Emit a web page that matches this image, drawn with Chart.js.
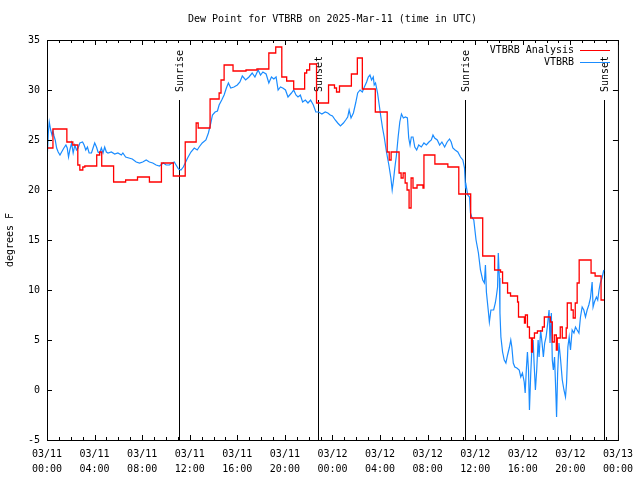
<!DOCTYPE html>
<html>
<head>
<meta charset="utf-8">
<script src="https://cdn.jsdelivr.net/npm/chart.js@4.4.1/dist/chart.umd.min.js"></script>
<style>
  html, body { margin: 0; padding: 0; background: #fff; }
  #chart { display: block; }
</style>
</head>
<body>
<canvas id="chart" width="640" height="480"></canvas>
<script>
// hours since 03/11 00:00 UTC, dew point in degrees F
const analysisPoints = [
    [0.00, 24.2], [0.50, 26.1], [1.67, 24.8], [2.17, 24.5], [2.59, 22.5], [2.76, 22.0],
    [3.01, 22.3], [3.18, 22.4], [4.18, 23.5], [4.43, 23.8], [4.60, 22.4], [5.60, 20.8],
    [6.61, 21.0], [7.61, 21.3], [8.61, 20.8], [9.62, 22.7], [10.62, 21.4], [11.62, 24.8],
    [12.54, 26.7], [12.71, 26.2], [13.71, 29.1], [14.47, 29.7], [14.63, 31.0], [14.89, 32.5],
    [15.64, 31.9], [16.73, 32.0], [17.65, 32.1], [18.65, 33.7], [19.23, 34.3], [19.74, 31.3],
    [20.15, 30.9], [20.74, 30.1], [21.66, 31.7], [21.83, 32.0], [22.08, 32.6], [22.66, 28.7],
    [23.67, 30.5], [24.17, 30.2], [24.34, 29.8], [24.59, 30.4], [25.59, 31.6], [26.09, 33.2],
    [26.51, 30.1], [27.60, 27.8], [28.60, 23.8], [28.77, 23.0], [28.93, 23.8], [29.60, 21.7],
    [29.77, 21.2], [29.94, 21.7], [30.11, 20.7], [30.27, 20.0], [30.44, 18.2], [30.61, 21.2],
    [30.77, 20.2], [31.11, 20.5], [31.61, 20.2], [31.69, 23.5], [32.61, 22.6], [33.70, 22.3],
    [34.62, 19.6], [35.62, 17.2], [36.63, 13.4], [37.63, 12.0], [38.13, 11.8], [38.30, 10.7],
    [38.72, 9.7], [38.97, 9.4], [39.56, 8.8], [39.64, 7.3], [40.14, 6.7], [40.22, 7.5],
    [40.39, 6.3], [40.56, 5.2], [40.73, 3.8], [40.81, 5.2], [40.98, 5.7], [41.23, 5.9],
    [41.65, 6.3], [41.81, 7.3], [42.32, 6.8], [42.48, 4.8], [42.65, 5.5], [42.82, 4.0],
    [42.90, 5.2], [43.15, 6.3], [43.32, 5.2], [43.65, 6.2], [43.74, 8.7], [44.07, 8.0],
    [44.24, 7.2], [44.41, 8.7], [44.57, 10.7], [44.74, 13.0], [45.74, 11.7], [46.08, 11.4],
    [46.58, 9.0], [46.83, 9.0]
];

const obsPoints = [
    [0.00, 22.8], [0.11, 25.7], [0.19, 26.8], [0.31, 26.0], [0.42, 25.5], [0.50, 25.9],
    [0.59, 25.4], [0.69, 25.0], [0.81, 24.2], [0.94, 23.8], [1.09, 23.5], [1.23, 23.8],
    [1.42, 24.2], [1.59, 24.5], [1.70, 24.2], [1.81, 23.3], [1.92, 24.0], [2.07, 24.7],
    [2.20, 23.7], [2.34, 24.5], [2.48, 24.0], [2.62, 24.2], [2.76, 24.7], [2.99, 24.8],
    [3.12, 24.5], [3.26, 24.0], [3.40, 24.3], [3.54, 23.7], [3.74, 23.7], [3.87, 24.2],
    [4.01, 24.7], [4.16, 24.3], [4.29, 23.8], [4.43, 23.7], [4.57, 24.2], [4.71, 23.7],
    [4.85, 24.3], [4.99, 23.8], [5.13, 23.7], [5.41, 23.8], [5.69, 23.6], [5.96, 23.7],
    [6.25, 23.5], [6.38, 23.7], [6.61, 23.3], [6.88, 23.2], [7.17, 23.1], [7.50, 22.8],
    [7.78, 22.7], [8.05, 22.8], [8.34, 23.0], [8.61, 22.8], [8.89, 22.7], [9.17, 22.5],
    [9.45, 22.4], [9.78, 22.7], [10.01, 22.5], [10.29, 22.5], [10.51, 22.7], [10.70, 22.8],
    [10.85, 22.5], [11.06, 22.1], [11.26, 22.0], [11.46, 22.3], [11.82, 23.2], [12.10, 23.8],
    [12.38, 24.2], [12.63, 24.0], [12.79, 24.3], [13.05, 24.7], [13.36, 25.0], [13.57, 25.7],
    [13.77, 26.7], [13.91, 27.5], [14.13, 27.8], [14.33, 27.9], [14.47, 28.5], [14.69, 29.0],
    [14.89, 29.5], [15.08, 30.2], [15.25, 30.7], [15.45, 30.2], [15.72, 30.3], [16.00, 30.5],
    [16.22, 30.8], [16.42, 31.4], [16.70, 31.0], [16.98, 31.3], [17.25, 31.7], [17.48, 31.3],
    [17.75, 32.0], [17.95, 31.5], [18.15, 31.8], [18.42, 31.6], [18.65, 30.7], [18.87, 31.3],
    [19.07, 31.1], [19.26, 31.3], [19.43, 30.0], [19.63, 30.3], [19.82, 30.2], [20.05, 30.0],
    [20.26, 29.3], [20.55, 29.7], [20.74, 30.0], [20.93, 29.5], [21.10, 29.3], [21.30, 29.5],
    [21.49, 28.8], [21.72, 29.0], [21.94, 28.7], [22.16, 29.0], [22.39, 28.5], [22.60, 27.8],
    [22.83, 27.8], [23.11, 27.6], [23.39, 27.8], [23.61, 27.7], [23.81, 27.5], [24.00, 27.4],
    [24.23, 27.0], [24.44, 26.7], [24.67, 26.4], [24.92, 26.7], [25.11, 27.0], [25.28, 27.3],
    [25.40, 28.0], [25.56, 27.2], [25.76, 27.7], [25.95, 28.7], [26.12, 29.7], [26.32, 30.0],
    [26.51, 29.8], [26.68, 30.3], [26.87, 30.8], [27.01, 31.3], [27.15, 31.5], [27.29, 31.0],
    [27.43, 31.3], [27.51, 30.5], [27.62, 30.7], [27.79, 29.7], [27.93, 28.5], [28.07, 27.3],
    [28.21, 26.2], [28.35, 25.3], [28.54, 23.8], [28.74, 22.5], [28.91, 21.2], [29.02, 20.0],
    [29.13, 21.0], [29.24, 22.2], [29.38, 23.5], [29.52, 25.3], [29.66, 26.8], [29.80, 27.6],
    [29.96, 27.2], [30.13, 27.3], [30.30, 27.2], [30.41, 25.2], [30.52, 24.5], [30.63, 25.3],
    [30.77, 25.3], [30.92, 24.3], [31.08, 24.0], [31.25, 24.5], [31.47, 24.3], [31.69, 24.7],
    [31.89, 24.5], [32.11, 24.8], [32.31, 25.0], [32.45, 25.5], [32.59, 25.2], [32.81, 25.0],
    [33.01, 24.5], [33.20, 24.8], [33.43, 24.3], [33.64, 24.8], [33.84, 25.1], [33.98, 24.8],
    [34.12, 24.2], [34.31, 24.0], [34.54, 23.8], [34.76, 23.3], [34.96, 23.0], [35.10, 22.2],
    [35.18, 20.3], [35.23, 20.5], [35.37, 19.5], [35.52, 19.3], [35.60, 17.7], [35.71, 17.3],
    [35.88, 17.0], [36.07, 15.0], [36.27, 13.7], [36.44, 12.0], [36.63, 11.0], [36.77, 10.7],
    [36.86, 12.5], [36.94, 9.8], [37.11, 7.8], [37.19, 6.8], [37.32, 8.0], [37.55, 8.0],
    [37.69, 8.7], [37.77, 9.3], [37.88, 10.3], [37.94, 13.7], [38.03, 11.2], [38.08, 7.7],
    [38.16, 5.3], [38.30, 3.8], [38.44, 3.0], [38.58, 2.7], [38.72, 3.5], [38.86, 4.2],
    [38.99, 5.0], [39.08, 4.3], [39.20, 2.7], [39.33, 2.3], [39.50, 2.2], [39.70, 2.0],
    [39.83, 1.3], [39.97, 1.7], [40.12, 0.8], [40.20, -0.3], [40.31, 2.3], [40.39, 3.8],
    [40.48, 2.0], [40.56, -2.0], [40.67, 1.7], [40.75, 3.8], [40.87, 5.0], [40.95, 2.7],
    [41.06, 0.0], [41.17, 2.0], [41.29, 5.0], [41.37, 3.3], [41.50, 6.0], [41.62, 4.7],
    [41.73, 3.3], [41.84, 4.7], [41.96, 5.3], [42.06, 6.3], [42.21, 8.0], [42.29, 4.7],
    [42.40, 7.7], [42.48, 3.0], [42.57, 2.0], [42.67, 3.3], [42.79, -0.7], [42.84, -2.7],
    [42.93, 1.7], [43.04, 4.7], [43.18, 3.0], [43.32, 1.0], [43.46, 0.0], [43.59, -0.7],
    [43.68, 0.7], [43.79, 4.3], [43.90, 5.3], [44.01, 4.0], [44.15, 6.0], [44.30, 5.7],
    [44.43, 6.3], [44.57, 6.0], [44.72, 5.7], [44.85, 7.3], [44.99, 8.3], [45.13, 8.0],
    [45.27, 7.3], [45.41, 8.0], [45.55, 8.5], [45.69, 9.2], [45.83, 10.8], [45.91, 8.3],
    [46.02, 8.8], [46.19, 9.3], [46.30, 9.0], [46.41, 10.0], [46.52, 10.7], [46.66, 11.2],
    [46.81, 12.0]
];

const sunEvents = [[11.12, "Sunrise"], [22.77, "Sunset"], [35.15, "Sunrise"], [46.86, "Sunset"]];
const seriesNames = ["VTBRB Analysis", "VTBRB"];
const seriesColors = ["#ff0000", "#1a8cff"];
const dayLabels = ["03/11", "03/12", "03/13"];

const FONT = '10px "DejaVu Sans Mono"';

function toXY(points) {
    return points.map(p => ({x: p[0], y: p[1]}));
}

const decorations = {
    id: "decorations",
    beforeDatasetsDraw(chart) {
        const ctx = chart.ctx;
        const x = chart.scales.x;
        const y = chart.scales.y;
        ctx.save();
        ctx.strokeStyle = "#000";
        ctx.lineWidth = 1;
        ctx.fillStyle = "#000";
        ctx.font = FONT;
        sunEvents.forEach(([hour, name]) => {
            const px = Math.round(x.getPixelForValue(hour)) + 0.5;
            ctx.beginPath();
            ctx.moveTo(px, y.getPixelForValue(29));
            ctx.lineTo(px, y.getPixelForValue(-5));
            ctx.stroke();

            ctx.save();
            ctx.translate(px + 1, y.getPixelForValue(29.8));
            ctx.rotate(-Math.PI / 2);
            ctx.textAlign = "left";
            ctx.textBaseline = "middle";
            ctx.fillText(name, 0, 0);
            ctx.restore();
        });
        ctx.restore();
    },
    afterDraw(chart) {
        const ctx = chart.ctx;
        const area = chart.chartArea;
        const x = chart.scales.x;
        const y = chart.scales.y;
        ctx.save();
        ctx.strokeStyle = "#000";
        ctx.lineWidth = 1;
        ctx.strokeRect(area.left + 0.5, area.top + 0.5, area.right - area.left, area.bottom - area.top);

        ctx.beginPath();
        for (let h = 0; h <= 48; h++) {
            const len = h % 4 === 0 ? 5 : 3;
            const px = Math.round(x.getPixelForValue(h)) + 0.5;
            ctx.moveTo(px, area.bottom);
            ctx.lineTo(px, area.bottom - len);
            ctx.moveTo(px, area.top);
            ctx.lineTo(px, area.top + len);
        }
        for (let v = -5; v <= 35; v += 5) {
            const py = Math.round(y.getPixelForValue(v)) + 0.5;
            ctx.moveTo(area.left, py);
            ctx.lineTo(area.left + 5, py);
            ctx.moveTo(area.right, py);
            ctx.lineTo(area.right - 5, py);
        }
        ctx.stroke();

        ctx.fillStyle = "#000";
        ctx.font = FONT;
        ctx.textBaseline = "middle";
        ctx.textAlign = "center";
        ctx.fillText("Dew Point for VTBRB on 2025-Mar-11 (time in UTC)", (area.left + area.right) / 2, 19);

        ctx.save();
        ctx.translate(10, (area.top + area.bottom) / 2);
        ctx.rotate(-Math.PI / 2);
        ctx.fillText("degrees F", 0, 0);
        ctx.restore();

        ctx.textAlign = "right";
        seriesNames.forEach((name, i) => {
            const ly = 50 + i * 12;
            ctx.fillText(name, 574, ly);
            ctx.strokeStyle = seriesColors[i];
            ctx.beginPath();
            ctx.moveTo(580, ly + 0.5);
            ctx.lineTo(610, ly + 0.5);
            ctx.stroke();
        });
        ctx.restore();
    }
};

new Chart(document.getElementById("chart"), {
    type: "line",
    data: {
        datasets: [
            {
                label: seriesNames[0],
                data: toXY(analysisPoints),
                borderColor: seriesColors[0],
                borderWidth: 1.3,
                stepped: true,
                pointRadius: 0,
                fill: false
            },
            {
                label: seriesNames[1],
                data: toXY(obsPoints),
                borderColor: seriesColors[1],
                borderWidth: 1.2,
                pointRadius: 0,
                tension: 0,
                fill: false
            }
        ]
    },
    options: {
        responsive: false,
        animation: false,
        devicePixelRatio: 1,
        layout: {padding: {top: 40, right: 19, left: 0, bottom: 0}},
        plugins: {
            legend: {display: false},
            title: {display: false},
            tooltip: {enabled: false}
        },
        scales: {
            x: {
                type: "linear",
                min: 0,
                max: 48,
                afterFit: s => { s.height = 40; },
                grid: {display: false, drawTicks: false},
                border: {display: false},
                ticks: {
                    stepSize: 4,
                    autoSkip: false,
                    maxRotation: 0,
                    padding: 7,
                    color: "#000",
                    font: {family: "DejaVu Sans Mono", size: 10, lineHeight: 1.5},
                    callback: v => [dayLabels[Math.floor(v / 24)], String(v % 24).padStart(2, "0") + ":00"]
                }
            },
            y: {
                min: -5,
                max: 35,
                afterFit: s => { s.width = 47; },
                grid: {display: false, drawTicks: false},
                border: {display: false},
                ticks: {
                    stepSize: 5,
                    padding: 7,
                    color: "#000",
                    font: {family: "DejaVu Sans Mono", size: 10}
                }
            }
        }
    },
    plugins: [decorations]
});
</script>
</body>
</html>
